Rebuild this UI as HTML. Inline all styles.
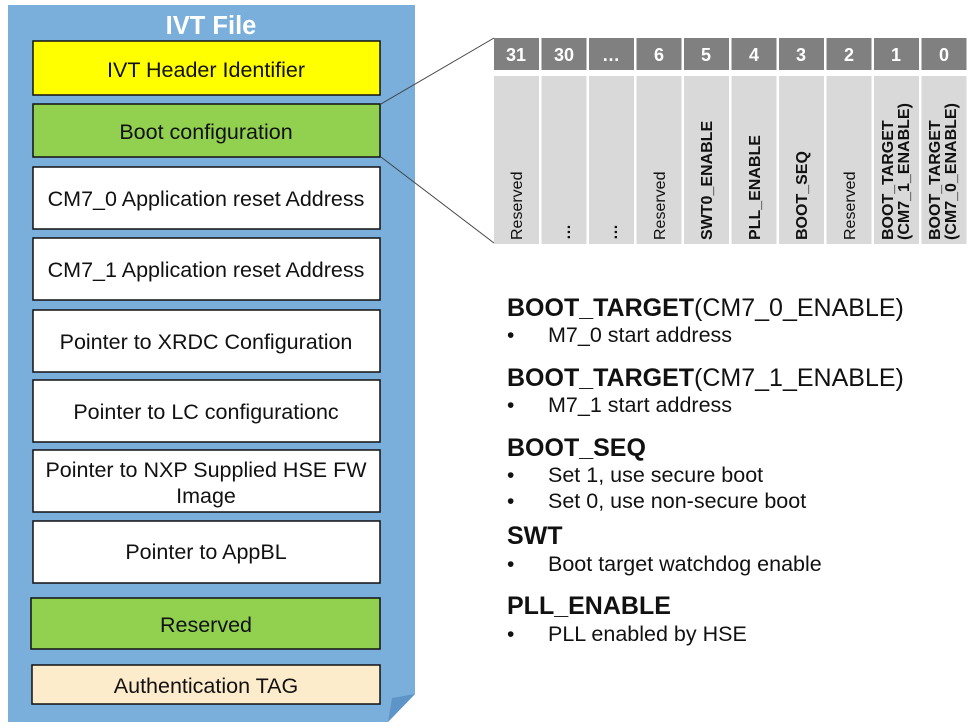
<!DOCTYPE html>
<html><head><meta charset="utf-8"><style>body{margin:0;background:#fff}svg{display:block}</style></head>
<body>
<svg width="980" height="728" viewBox="0 0 980 728" xmlns="http://www.w3.org/2000/svg" font-family="Liberation Sans, Arial, sans-serif">
<polygon points="8,5 415,5 415,694 388,722 8,722" fill="#7aafdb"/>
<polygon points="388,722 392,698 415,694" fill="#5e95c8"/>
<text x="211" y="34" text-anchor="middle" font-size="25.5" font-weight="bold" fill="#fff">IVT File</text>
<g stroke="#111" stroke-width="1.5">
<rect x="33" y="41" width="347" height="54" fill="#ffff00"/>
<rect x="33" y="104" width="347" height="53" fill="#92d050"/>
<rect x="33" y="167" width="347" height="62" fill="#fff"/>
<rect x="33" y="238" width="347" height="62" fill="#fff"/>
<rect x="33" y="310" width="347" height="62" fill="#fff"/>
<rect x="33" y="380" width="347" height="62" fill="#fff"/>
<rect x="33" y="450" width="347" height="62" fill="#fff"/>
<rect x="33" y="521" width="347" height="62" fill="#fff"/>
<rect x="31" y="598" width="349" height="51" fill="#92d050"/>
<rect x="32" y="665" width="348" height="39" fill="#fdeccb"/>
</g>
<g font-size="21.5" fill="#111" text-anchor="middle">
<text x="206" y="77">IVT Header Identifier</text>
<text x="206" y="139">Boot configuration</text>
<text x="206" y="206">CM7_0 Application reset Address</text>
<text x="206" y="277">CM7_1 Application reset Address</text>
<text x="206" y="349">Pointer to XRDC Configuration</text>
<text x="206" y="419">Pointer to LC configurationc</text>
<text x="206" y="477">Pointer to NXP Supplied HSE FW</text>
<text x="206" y="503">Image</text>
<text x="206" y="559">Pointer to AppBL</text>
<text x="206" y="632">Reserved</text>
<text x="206" y="693">Authentication TAG</text>
</g>
<line x1="381" y1="104" x2="494" y2="38" stroke="#444" stroke-width="1"/>
<line x1="381" y1="157" x2="494" y2="243" stroke="#444" stroke-width="1"/>
<g fill="#808080">
<rect x="494" y="38" width="45" height="32"/><rect x="541.5" y="38" width="45" height="32"/><rect x="589" y="38" width="45" height="32"/><rect x="636.5" y="38" width="45" height="32"/><rect x="684" y="38" width="45" height="32"/><rect x="731.5" y="38" width="45" height="32"/><rect x="779" y="38" width="45" height="32"/><rect x="826.5" y="38" width="45" height="32"/><rect x="874" y="38" width="45" height="32"/><rect x="921.5" y="38" width="45" height="32"/>
</g>
<g fill="#d9d9d9">
<rect x="494" y="76" width="45" height="168"/><rect x="541.5" y="76" width="45" height="168"/><rect x="589" y="76" width="45" height="168"/><rect x="636.5" y="76" width="45" height="168"/><rect x="684" y="76" width="45" height="168"/><rect x="731.5" y="76" width="45" height="168"/><rect x="779" y="76" width="45" height="168"/><rect x="826.5" y="76" width="45" height="168"/><rect x="874" y="76" width="45" height="168"/><rect x="921.5" y="76" width="45" height="168"/>
</g>
<g fill="#fff" font-size="18" font-weight="bold" text-anchor="middle">
<text x="516" y="61">31</text><text x="564" y="61">30</text><text x="611" y="61">…</text><text x="659" y="61">6</text><text x="706" y="61">5</text><text x="754" y="61">4</text><text x="801" y="61">3</text><text x="849" y="61">2</text><text x="896" y="61">1</text><text x="944" y="61">0</text>
</g>
<g fill="#111" font-size="16">
<text transform="translate(522,240) rotate(-90)">Reserved</text>
<text transform="translate(570,240) rotate(-90)" font-weight="bold">…</text>
<text transform="translate(617,240) rotate(-90)" font-weight="bold">…</text>
<text transform="translate(665,240) rotate(-90)">Reserved</text>
<text transform="translate(712,240) rotate(-90)" font-weight="bold">SWT0_ENABLE</text>
<text transform="translate(760,240) rotate(-90)" font-weight="bold">PLL_ENABLE</text>
<text transform="translate(807,240) rotate(-90)" font-weight="bold">BOOT_SEQ</text>
<text transform="translate(855,240) rotate(-90)">Reserved</text>
<text transform="translate(893,240) rotate(-90)" font-weight="bold">BOOT_TARGET</text>
<text transform="translate(909,240) rotate(-90)" font-weight="bold">(CM7_1_ENABLE)</text>
<text transform="translate(940,240) rotate(-90)" font-weight="bold">BOOT_TARGET</text>
<text transform="translate(956,240) rotate(-90)" font-weight="bold">(CM7_0_ENABLE)</text>
</g>
<g fill="#111">
<text x="507" y="316" font-size="25"><tspan font-weight="bold">BOOT_TARGET</tspan>(CM7_0_ENABLE)</text>
<text x="507" y="342" font-size="21">•</text><text x="548" y="342" font-size="21.5">M7_0 start address</text>
<text x="507" y="386" font-size="25"><tspan font-weight="bold">BOOT_TARGET</tspan>(CM7_1_ENABLE)</text>
<text x="507" y="412" font-size="21">•</text><text x="548" y="412" font-size="21.5">M7_1 start address</text>
<text x="507" y="456" font-size="25" font-weight="bold">BOOT_SEQ</text>
<text x="507" y="482" font-size="21">•</text><text x="548" y="482" font-size="21.5">Set 1, use secure boot</text>
<text x="507" y="508" font-size="21">•</text><text x="548" y="508" font-size="21.5">Set 0, use non-secure boot</text>
<text x="507" y="544" font-size="25" font-weight="bold">SWT</text>
<text x="507" y="571" font-size="21">•</text><text x="548" y="571" font-size="21.5">Boot target watchdog enable</text>
<text x="507" y="614" font-size="25" font-weight="bold">PLL_ENABLE</text>
<text x="507" y="641" font-size="21">•</text><text x="548" y="641" font-size="21.5">PLL enabled by HSE</text>
</g>
</svg>
</body></html>
